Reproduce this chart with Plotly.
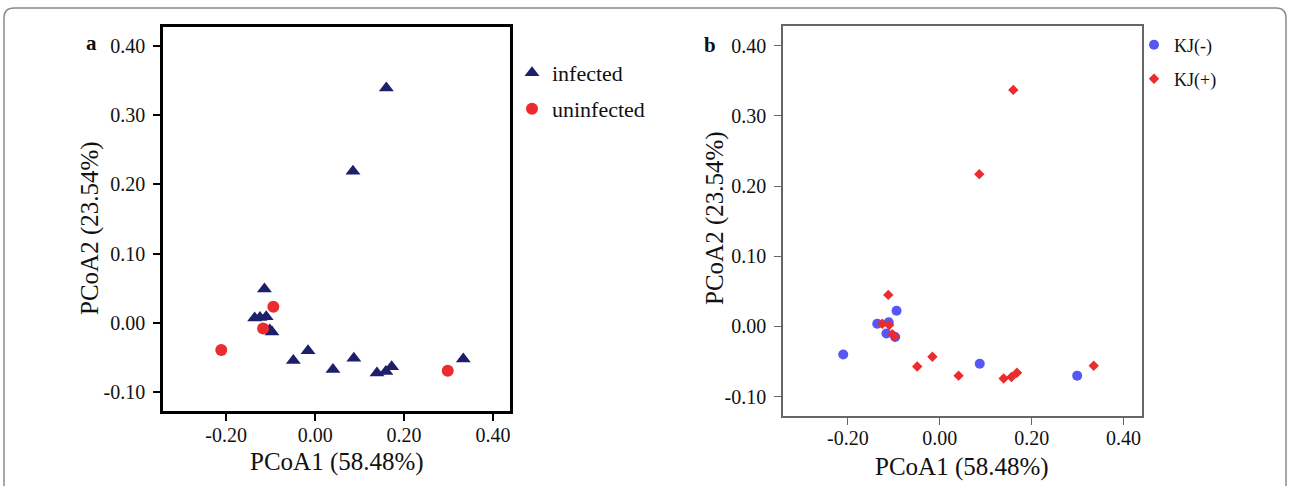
import plotly.graph_objects as go

W, H = 1290, 486

# ---- Panel a data ----
infected_x = [0.160, 0.085, -0.114, -0.136, -0.124, -0.110, -0.102, -0.097,
              -0.049, -0.016, 0.040, 0.087, 0.139, 0.159, 0.172, 0.333]
infected_y = [0.339, 0.219, 0.049, 0.007, 0.008, 0.009, -0.010, -0.013,
              -0.054, -0.040, -0.067, -0.051, -0.072, -0.070, -0.063, -0.052]
uninfected_x = [-0.094, -0.117, -0.211, 0.298]
uninfected_y = [0.0235, -0.008, -0.039, -0.069]

# ---- Panel b data ----
kjneg_x = [-0.094, -0.136, -0.111, -0.116, -0.097, -0.210, 0.087, 0.299]
kjneg_y = [0.0225, 0.004, 0.006, -0.010, -0.015, -0.040, -0.053, -0.070]
kjpos_x = [0.160, 0.086, -0.112, -0.125, -0.110, -0.103, -0.098,
           -0.049, -0.016, 0.041, 0.139, 0.156, 0.168, 0.335]
kjpos_y = [0.337, 0.217, 0.045, 0.004, 0.002, -0.011, -0.014,
           -0.057, -0.043, -0.070, -0.074, -0.072, -0.066, -0.056]

x_ticks = [-0.2, 0.0, 0.2, 0.4]
y_ticks = [-0.1, 0.0, 0.1, 0.2, 0.3, 0.4]
x_ticklabels = ["-0.20", "0.00", "0.20", "0.40"]
y_ticklabels = ["-0.10", "0.00", "0.10", "0.20", "0.30", "0.40"]
x_title = "PCoA1 (58.48%)"
y_title = "PCoA2 (23.54%)"

NAVY = "#1d1f6b"
RED = "#ec2b2e"
BLUE = "#5557f7"
FONT = "Liberation Serif"

def px(x):
    return x / W

def py(y):
    return 1 - y / H

fig = go.Figure()

fig.add_trace(go.Scatter(x=infected_x, y=infected_y, mode="markers", name="infected",
                         marker=dict(symbol="triangle-up", size=13, color=NAVY),
                         xaxis="x", yaxis="y", legend="legend"))
fig.add_trace(go.Scatter(x=uninfected_x, y=uninfected_y, mode="markers", name="uninfected",
                         marker=dict(symbol="circle", size=12, color=RED),
                         xaxis="x", yaxis="y", legend="legend2"))
fig.add_trace(go.Scatter(x=kjneg_x, y=kjneg_y, mode="markers", name="KJ(-)",
                         marker=dict(symbol="circle", size=10, color=BLUE),
                         xaxis="x2", yaxis="y2", legend="legend3"))
fig.add_trace(go.Scatter(x=kjpos_x, y=kjpos_y, mode="markers", name="KJ(+)",
                         marker=dict(symbol="diamond", size=8, color=RED),
                         xaxis="x2", yaxis="y2", legend="legend4"))

tickfont = dict(family=FONT, size=20, color="#111")

def axis_common(color, lw):
    return dict(showline=True, linecolor=color, linewidth=lw, mirror=True,
                ticks="outside", ticklen=7, tickwidth=lw * 0.8, tickcolor=color,
                showgrid=False, zeroline=False, tickfont=tickfont,
                automargin=False, fixedrange=True)

xa = axis_common("#000", 2.5)
xa.update(domain=[px(163), px(510)], range=[-0.342, 0.438], tickvals=x_ticks,
          ticktext=x_ticklabels, anchor="y", ticklabelstandoff=-3)
ya = axis_common("#000", 2.5)
ya.update(domain=[py(411), py(27)], range=[-0.127, 0.427], tickvals=y_ticks,
          ticktext=y_ticklabels, anchor="x", ticklabelstandoff=4)
xb = axis_common("#666", 1.6)
xb.update(domain=[px(783), px(1142)], range=[-0.341, 0.440], tickvals=x_ticks,
          ticktext=x_ticklabels, anchor="y2", ticklabelstandoff=-4)
yb = axis_common("#666", 1.6)
yb.update(domain=[py(416), py(26)], range=[-0.1275, 0.428], tickvals=y_ticks,
          ticktext=y_ticklabels, anchor="x2", ticklabelstandoff=4)

def leg(x, y, size):
    return dict(x=px(x), y=py(y), xanchor="left", yanchor="middle",
                bgcolor="rgba(0,0,0,0)", borderwidth=0,
                font=dict(family=FONT, size=size, color="#111"))

def ann(text, x, y, size, angle=0):
    return dict(text=text, x=px(x), y=py(y), xref="paper", yref="paper",
                xanchor="center", yanchor="middle", textangle=angle,
                showarrow=False, font=dict(family=FONT, size=size, color="#111"))

annotations = [
    ann("<b>a</b>", 91, 43, 21),
    ann("<b>b</b>", 710, 45, 21),
    ann(x_title, 336.5, 462, 25),
    ann(x_title, 962, 467, 25),
    ann(y_title, 90, 228, 25, -90),
    ann(y_title, 715, 218, 25, -90),
]

# outer rounded frame (open at the bottom)
r = 10
x0, x1, y0 = 4, 1286, 8
path = (f"M {px(x0)} {py(H + 20)} L {px(x0)} {py(y0 + r)} "
        f"Q {px(x0)} {py(y0)} {px(x0 + r)} {py(y0)} "
        f"L {px(x1 - r)} {py(y0)} Q {px(x1)} {py(y0)} {px(x1)} {py(y0 + r)} "
        f"L {px(x1)} {py(H + 20)}")
shapes = [dict(type="path", path=path, xref="paper", yref="paper",
               line=dict(color="#8a8a8a", width=1.5))]

fig.update_layout(
    width=W, height=H, margin=dict(l=0, r=0, t=0, b=0),
    paper_bgcolor="white", plot_bgcolor="white",
    xaxis=xa, yaxis=ya, xaxis2=xb, yaxis2=yb,
    legend=leg(512, 73, 22), legend2=leg(512, 109, 22),
    legend3=leg(1134, 45, 18), legend4=leg(1134, 79, 18),
    annotations=annotations, shapes=shapes, showlegend=True,
)

fig.write_html("out.html", config={"displayModeBar": False},
               post_script="document.body.style.margin='0';document.body.style.overflow='hidden';")
